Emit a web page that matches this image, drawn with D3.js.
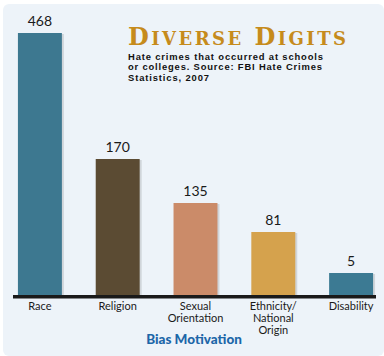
<!DOCTYPE html>
<html>
<head>
<meta charset="utf-8">
<script src="https://cdn.jsdelivr.net/npm/d3@7"></script>
<style>
  html, body { margin: 0; padding: 0; background: #ffffff; }
  svg { display: block; }
</style>
</head>
<body>
<svg id="chart" width="384" height="356"></svg>
<script>
// ---- data ----
const categories = ["Race", "Religion", "Sexual Orientation", "Ethnicity/ National Origin", "Disability"];
const categoryLines = [["Race"], ["Religion"], ["Sexual", "Orientation"], ["Ethnicity/", "National", "Origin"], ["Disability"]];
const values = [468, 170, 135, 81, 5];
const barColors = ["#3d7890", "#5b4b33", "#cb8b69", "#d5a24d", "#3c7a93"];
const titleText = "Diverse Digits";
const subtitleLines = ["Hate crimes that occurred at schools", "or colleges. Source: FBI Hate Crimes", "Statistics, 2007"];
const axisTitle = "Bias Motivation";

// ---- layout ----
const W = 384, H = 356;
const baseY = 295;
const svg = d3.select("#chart");

svg.append("rect").attr("x", 3).attr("y", 4).attr("width", W - 3).attr("height", H - 4)
  .attr("rx", 6).attr("fill", "#edf3f9");

const x = d3.scaleBand().domain(categories).range([1, 390]).paddingInner(0.435).paddingOuter(0.2175);
// the infographic's bar heights are not proportional; follow the picture with a piecewise scale
const y = d3.scaleLinear().domain([0, 5, 81, 135, 170, 468]).range([baseY, 273, 232, 203, 159, 33]);

const g = svg.append("g");

// shadows
g.selectAll("rect.shadow").data(values).join("rect").attr("class", "shadow")
  .attr("x", (d, i) => x(categories[i]) + 2)
  .attr("y", d => y(d) + 1)
  .attr("width", x.bandwidth())
  .attr("height", d => baseY - y(d))
  .attr("fill", "#000").attr("opacity", 0.12);

g.selectAll("rect.bar").data(values).join("rect").attr("class", "bar")
  .attr("x", (d, i) => x(categories[i]))
  .attr("y", d => y(d))
  .attr("width", x.bandwidth())
  .attr("height", d => baseY - y(d))
  .attr("fill", (d, i) => barColors[i]);

// value labels
g.selectAll("text.val").data(values).join("text").attr("class", "val")
  .attr("x", (d, i) => x(categories[i]) + x.bandwidth() / 2)
  .attr("y", d => y(d) - 7)
  .attr("text-anchor", "middle")
  .attr("font-family", "Lato, 'DejaVu Sans', sans-serif")
  .attr("font-size", 14)
  .attr("fill", "#1a1a1a")
  .text(d => d);

// baseline
g.append("line").attr("x1", 13).attr("x2", 376).attr("y1", baseY + 1.8).attr("y2", baseY + 1.8)
  .attr("stroke", "#1a1a1a").attr("stroke-width", 3.6);

// category labels
const cl = g.selectAll("text.cat").data(categoryLines).join("text").attr("class", "cat")
  .attr("x", (d, i) => x(categories[i]) + x.bandwidth() / 2)
  .attr("y", 310)
  .attr("text-anchor", "middle")
  .attr("font-family", "Lato, 'DejaVu Sans', sans-serif")
  .attr("font-size", 11)
  .attr("fill", "#1a1a1a");
cl.each(function(lines, i) {
  const t = d3.select(this);
  lines.forEach((ln, j) => {
    t.append("tspan").attr("x", x(categories[i]) + x.bandwidth() / 2).attr("dy", j === 0 ? 0 : 11.8).text(ln);
  });
});

// axis title
svg.append("text").attr("x", 194).attr("y", 344).attr("text-anchor", "middle")
  .attr("font-family", "Lato, 'DejaVu Sans', sans-serif").attr("font-weight", 900)
  .attr("font-size", 13.5).attr("fill", "#1c66a8").text(axisTitle);

// title in small caps
const tt = svg.append("text").attr("x", 128).attr("y", 44.5)
  .attr("font-family", "'DejaVu Serif', 'Liberation Serif', serif").attr("font-weight", "bold")
  .attr("fill", "#c68b1c").attr("textLength", 218).attr("lengthAdjust", "spacing");
titleText.split(" ").forEach((word, wi) => {
  tt.append("tspan").attr("font-size", 24).text((wi > 0 ? " " : "") + word[0].toUpperCase());
  tt.append("tspan").attr("font-size", 18).text(word.slice(1).toUpperCase());
});

// subtitle
const subWidths = [195, 194, 81];
const st = svg.append("text").attr("x", 128).attr("y", 59.5)
  .attr("font-family", "'Liberation Sans', Arial, sans-serif").attr("font-weight", "bold")
  .attr("font-size", 9.4).attr("fill", "#111");
subtitleLines.forEach((ln, j) => {
  st.append("tspan").attr("x", 128).attr("dy", j === 0 ? 0 : 10.6)
    .attr("textLength", subWidths[j]).attr("lengthAdjust", "spacing").text(ln);
});
</script>
</body>
</html>
